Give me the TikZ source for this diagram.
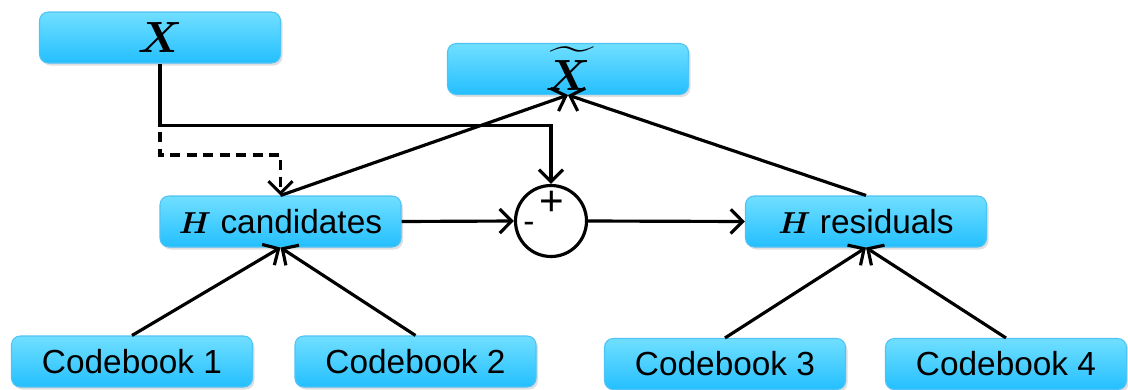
\documentclass[tikz,border=0pt]{standalone}
\usepackage{amsmath}
\usepackage{fontspec}
\setmainfont{Liberation Sans}
\usetikzlibrary{arrows.meta,shadows}

\definecolor{boxtop}{RGB}{112,223,255}
\definecolor{boxbottom}{RGB}{36,191,255}
\definecolor{boxline}{RGB}{80,195,245}

\tikzset{
    block/.style={rectangle, rounded corners=5pt, draw=boxline, line width=0.6pt,
        top color=boxtop, bottom color=boxbottom, inner sep=0pt,
        minimum width=4.82cm, minimum height=1.02cm,
        font=\fontsize{19}{22}\selectfont,
        drop shadow={opacity=0.25, shadow xshift=0.04cm, shadow yshift=-0.05cm}},
    adder/.style={circle, draw, line width=1.8pt, fill=white, minimum size=1.42cm, inner sep=0pt},
    sign/.style={font=\fontsize{24}{26}\selectfont, inner sep=0pt},
    conn/.style={line width=1.8pt, -{Straight Barb[length=2.4mm,width=4.8mm]}},
    dashconn/.style={conn, dash pattern=on 0.2cm off 0.13cm},
}

\begin{document}
\begin{tikzpicture}
    \useasboundingbox (0,0) rectangle (22.56,7.78);

    % Input and output blocks
    \node[block] (X) at (3.2, 7.03) {\fontsize{30}{32}\selectfont$\boldsymbol{X}$};
    \node[block] (Xt) at (11.36, 6.40) {\fontsize{24}{26}\selectfont$\boldsymbol{\widetilde{X}}$};

    % Middle row
    \node[block] (cand) at (5.61, 3.35) {$\boldsymbol{H}$ candidates};
    \node[adder] (sum) at (11.02, 3.36) {};
    \node[sign] (plus) at (11.04, 3.72) {+};
    \node[sign, font=\fontsize{19}{22}\selectfont] (minus) at (10.58, 3.23) {-};
    \node[block] (resid) at (17.32, 3.35) {$\boldsymbol{H}$ residuals};

    % Codebooks
    \node[block] (cb1) at (2.64, 0.55) {Codebook 1};
    \node[block] (cb2) at (8.31, 0.55) {Codebook 2};
    \node[block] (cb3) at (14.50, 0.50) {Codebook 3};
    \node[block] (cb4) at (20.12, 0.50) {Codebook 4};

    % X goes to the adder, dashed branch to the candidates
    \draw[conn] (X.south) -- ++(0,-1.24) -| (sum.north);
    \coordinate (split) at (3.2, 5.14);
    \draw[dashconn] (split) -- ++(0,-0.46) -| (cand.north);

    % Both rows feed the reconstruction
    \draw[conn] (cand.north) -- (Xt.south);
    \draw[conn] (resid.north) -- (Xt.south);

    % Through the adder
    \draw[conn] (cand.east) -- (sum.west);
    \draw[conn] (sum.east) -- (resid.west);

    % Codebooks into the middle row
    \draw[conn] (cb1.north) -- (cand.south);
    \draw[conn] (cb2.north) -- (cand.south);
    \draw[conn] (cb3.north) -- (resid.south);
    \draw[conn] (cb4.north) -- (resid.south);
\end{tikzpicture}
\end{document}
